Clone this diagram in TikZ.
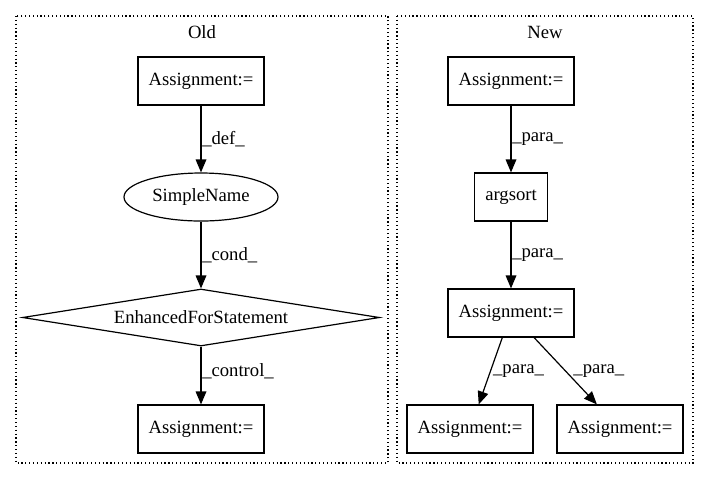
\documentclass[tikz,border=0pt]{standalone}
\usepackage{fontspec}
\setmainfont{Liberation Serif}
\usetikzlibrary{shapes.geometric,arrows.meta}
\begin{document}
\begin{tikzpicture}[x=0.75pt,y=-0.75pt,
  txt/.style={font=\fontsize{14}{16}\selectfont},
  box/.style={txt,draw,line width=0.9pt,rectangle,minimum width=94.5pt,minimum height=36pt,inner sep=0pt},
  smallbox/.style={box,minimum width=54.75pt},
  oval/.style={txt,draw,line width=0.9pt,ellipse,minimum width=115.5pt,minimum height=36pt,inner sep=0pt},
  decision/.style={txt,draw,line width=0.9pt,diamond,aspect=6.26,minimum width=267.75pt,minimum height=42.75pt,inner sep=0pt},
  cluster/.style={draw,dotted,line width=0.9pt},
  edge/.style={draw,line width=0.9pt,-{Triangle[length=9.75pt,width=8pt]}},
  lbl/.style={txt,anchor=west,inner sep=0.5pt}]
\useasboundingbox (0,0) rectangle (709,480);
% clusters
\draw[cluster] (16,16) rectangle (388,463);
\draw[cluster] (397,16) rectangle (693,463);
\node[txt] (old) at (202,32) {Old};
\node[txt] (new) at (545,32) {New};
% Old
\node[box] (a1) at (201,81) {Assignment:=};
\node[oval] (sn) at (201,197) {SimpleName};
\node[decision] (efs) at (201,317.5) {EnhancedForStatement};
\node[box] (a2) at (201,429) {Assignment:=};
\draw[edge] (a1) -- node[lbl]{\_def\_} (sn);
\draw[edge] (sn) -- node[lbl]{\_cond\_} (efs);
\draw[edge] (efs) -- node[lbl,pos=0.42]{\_control\_} (a2);
% New
\node[box] (b1) at (511,81) {Assignment:=};
\node[smallbox] (arg) at (511,197) {argsort};
\node[box] (b2) at (511,313) {Assignment:=};
\node[box] (b3) at (470,429) {Assignment:=};
\node[box] (b4) at (620,429) {Assignment:=};
\draw[edge] (b1) -- node[lbl]{\_para\_} (arg);
\draw[edge] (arg) -- node[lbl]{\_para\_} (b2);
\draw[edge] (b2) -- node[lbl,xshift=1pt]{\_para\_} (b3);
\draw[edge] (b2) -- node[lbl,xshift=5pt]{\_para\_} (b4);
\end{tikzpicture}
\end{document}
